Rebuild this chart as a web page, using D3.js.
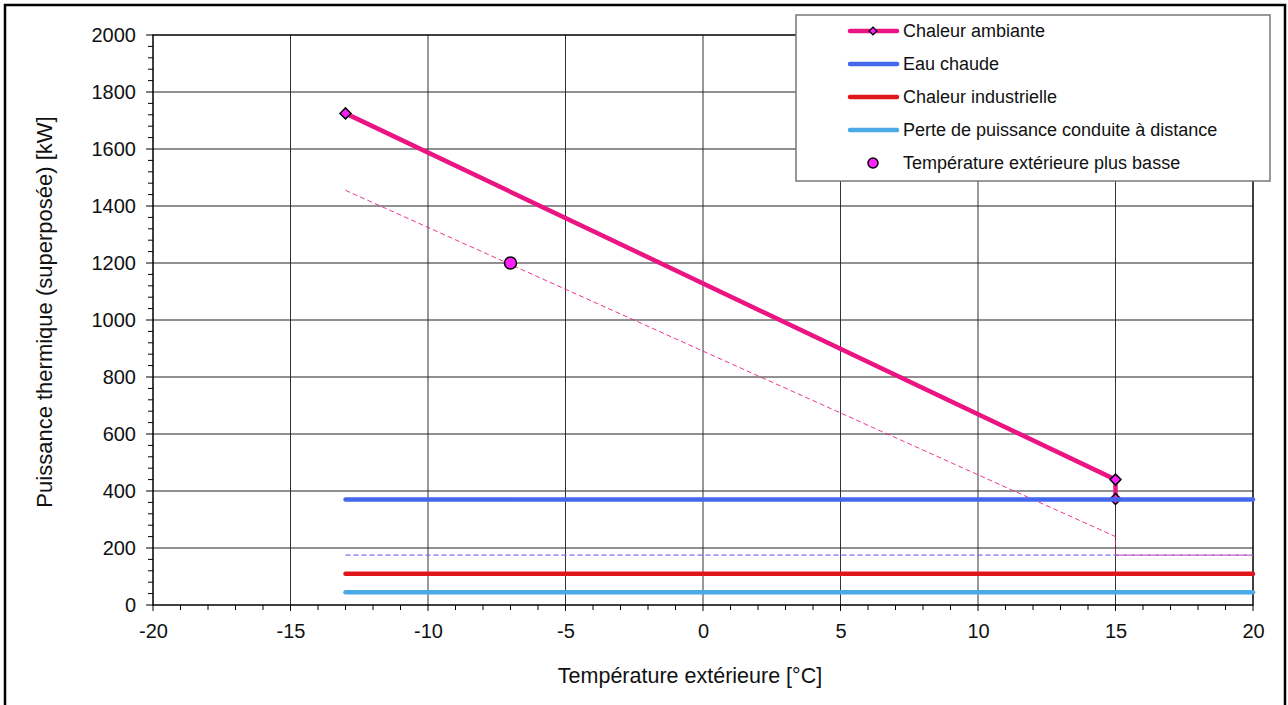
<!DOCTYPE html>
<html><head><meta charset="utf-8">
<script src="https://cdn.jsdelivr.net/npm/d3@7"></script>
<style>body{margin:0;background:#fff;font-family:"Liberation Sans",Arial,sans-serif}</style>
</head><body>
<svg id="c" width="1288" height="705"></svg>
<script>
const xTicks = [-20,-15,-10,-5,0,5,10,15,20];
const yTicks = [0,200,400,600,800,1000,1200,1400,1600,1800,2000];
const ambX = [-13, 15, 15];
const ambY = [1725, 440, 372];
const ambDashX = [-13, 15, 15, 20];
const ambDashY = [1455, 240, 175, 175];
const eauX = [-13, 20]; const eauY = [370, 370];
const eauDashX = [-13, 20]; const eauDashY = [175, 175];
const indX = [-13, 20]; const indY = [110, 110];
const perteX = [-13, 20]; const perteY = [45, 45];
const lowX = [-7]; const lowY = [1200];
const legendLabels = ["Chaleur ambiante","Eau chaude","Chaleur industrielle","Perte de puissance conduite à distance","Température extérieure plus basse"];
const colors = {amb:"#ea1483", eau:"#4467ee", ind:"#e0161d", perte:"#4aaae6", eauDash:"#7b6ff0", marker:"#ff1fff"};

const svg = d3.select("#c");
const L=153,R=1253,T=35,B=605;
const x = d3.scaleLinear().domain([-20,20]).range([L,R]);
const y = d3.scaleLinear().domain([0,2000]).range([B,T]);

// outer frame
svg.append("rect").attr("x",5).attr("y",5).attr("width",1280).attr("height",720).attr("fill","none").attr("stroke","#000").attr("stroke-width",2.5);

// grid
const g = svg.append("g");
g.selectAll(".gx").data(xTicks.slice(1,-1)).join("line").attr("x1",d=>x(d)).attr("x2",d=>x(d)).attr("y1",T).attr("y2",B).attr("stroke","#333").attr("stroke-width",1);
g.selectAll(".gy").data(yTicks.slice(1,-1)).join("line").attr("x1",L).attr("x2",R).attr("y1",d=>y(d)).attr("y2",d=>y(d)).attr("stroke","#222").attr("stroke-width",1);
svg.append("rect").attr("x",L).attr("y",T).attr("width",R-L).attr("height",B-T).attr("fill","none").attr("stroke","#000").attr("stroke-width",1.5);

// axes
const xMinor = d3.range(-20,21,1);
const yMinor = d3.range(0,2001,40);
svg.append("g").selectAll("line").data(xMinor).join("line").attr("x1",d=>x(d)).attr("x2",d=>x(d)).attr("y1",B).attr("y2",d=>d%5===0?B+6:B+5).attr("stroke","#000");
svg.append("g").selectAll("line").data(yMinor).join("line").attr("y1",d=>y(d)).attr("y2",d=>y(d)).attr("x1",L).attr("x2",d=>d%200===0?L-7:L-5).attr("stroke","#000");
const xa = svg.append("g").attr("transform",`translate(0,${B})`).call(d3.axisBottom(x).tickValues(xTicks).tickSize(0).tickPadding(19).tickFormat(d=>d));
const ya = svg.append("g").attr("transform",`translate(${L},0)`).call(d3.axisLeft(y).tickValues(yTicks).tickSize(0).tickPadding(17).tickFormat(d=>d));
[xa,ya].forEach(a=>{a.select(".domain").remove();a.selectAll("text").attr("font-size",20).attr("font-family","Liberation Sans, Arial").attr("fill","#111");});

svg.append("text").attr("x",690).attr("y",683).attr("text-anchor","middle").attr("font-size",21.5).attr("fill","#111").text("Température extérieure [°C]");
svg.append("text").attr("transform",`translate(52,312) rotate(-90)`).attr("text-anchor","middle").attr("font-size",22).attr("fill","#111").text("Puissance thermique (superposée) [kW]");

const line = d3.line().x(d=>x(d[0])).y(d=>y(d[1]));
const zip = (a,b)=>a.map((v,i)=>[v,b[i]]);

// dashed lines
svg.append("path").attr("d",line(zip(eauDashX,eauDashY))).attr("fill","none").attr("stroke",colors.eauDash).attr("stroke-width",1.3).attr("stroke-dasharray","5,3");
svg.append("path").attr("d",line(zip(ambDashX,ambDashY))).attr("fill","none").attr("stroke",colors.amb).attr("stroke-width",1).attr("stroke-dasharray","5,3").attr("opacity",0.85);

// ambient line & markers
svg.append("path").attr("d",line(zip(ambX,ambY))).attr("fill","none").attr("stroke",colors.amb).attr("stroke-width",4.5).attr("stroke-linejoin","round");
svg.append("g").selectAll("path").data(zip(ambX,ambY)).join("path").attr("d",d3.symbol().type(d3.symbolSquare).size(60)).attr("transform",d=>`translate(${x(d[0])},${y(d[1])}) rotate(45)`).attr("fill",colors.marker).attr("stroke","#000").attr("stroke-width",1.5);

// horizontal lines
[[eauX,eauY,colors.eau],[indX,indY,colors.ind],[perteX,perteY,colors.perte]].forEach(([xs,ys,c])=>{
  svg.append("path").attr("d",line(zip(xs,ys))).attr("fill","none").attr("stroke",c).attr("stroke-width",4.5).attr("stroke-linecap","round");
});

// lowest temp point
svg.append("g").selectAll("circle").data(zip(lowX,lowY)).join("circle").attr("cx",d=>x(d[0])).attr("cy",d=>y(d[1])).attr("r",6).attr("fill",colors.marker).attr("stroke","#000").attr("stroke-width",1.5);

// legend
const lg = svg.append("g");
lg.append("rect").attr("x",796).attr("y",15).attr("width",474).attr("height",166).attr("fill","#fff").attr("stroke","#777").attr("stroke-width",1.5);
const legColors=[colors.amb,colors.eau,colors.ind,colors.perte,null];
legendLabels.forEach((lab,i)=>{
  const cy = 31 + i*33;
  if(legColors[i]){
    lg.append("line").attr("x1",850).attr("x2",897).attr("y1",cy).attr("y2",cy).attr("stroke",legColors[i]).attr("stroke-width",4.5).attr("stroke-linecap","round");
  }
  if(i===0){
    lg.append("path").attr("d",d3.symbol().type(d3.symbolSquare).size(30)).attr("transform",`translate(873,${cy}) rotate(45)`).attr("fill",colors.marker).attr("stroke","#000").attr("stroke-width",1.3);
  }
  if(i===4){
    lg.append("circle").attr("cx",873).attr("cy",cy).attr("r",5).attr("fill",colors.marker).attr("stroke","#000").attr("stroke-width",1.5);
  }
  lg.append("text").attr("x",903).attr("y",cy+6).attr("font-size",18).attr("fill","#111").text(lab);
});
</script>
</body></html>
